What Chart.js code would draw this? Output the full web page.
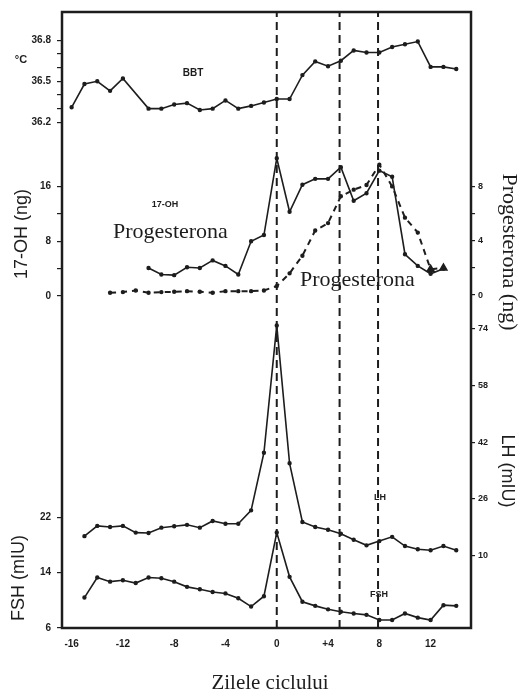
<!DOCTYPE html>
<html>
<head>
<meta charset="utf-8">
<script src="https://cdn.jsdelivr.net/npm/chart.js@4.4.1/dist/chart.umd.min.js"></script>
<style>
    html, body { margin: 0; padding: 0; background: #ffffff; }
    #chart { display: block; }
</style>
</head>
<body>
<canvas id="chart" width="532" height="694"></canvas>
<script>
// ── DONNEES ──
const BBT_DAYS = [-16, -15, -14, -13, -12, -11, -10, -9, -8, -7, -6, -5, -4, -3, -2, -1, 0, 1, 2, 3, 4, 5, 6, 7, 8, 9, 10, 11, 12, 13, 14];
const BBT      = [36.31, 36.48, 36.50, 36.43, 36.52, null, 36.30, 36.30, 36.33, 36.34, 36.29, 36.30, 36.36, 36.30, 36.32, 36.345,
                  36.37, 36.37, 36.545, 36.645, 36.61, 36.65, 36.725, 36.71, 36.71, 36.75, 36.77, 36.79, 36.605, 36.605, 36.59];

const OH_DAYS  = [-10, -9, -8, -7, -6, -5, -4, -3, -2, -1, 0, 1, 2, 3, 4, 5, 6, 7, 8, 9, 10, 11, 12, 13];
const OH17     = [4.1, 3.15, 3.05, 4.2, 4.1, 5.2, 4.4, 3.15, 8.0, 8.9, 20.1, 12.3, 16.25, 17.1, 17.1, 18.8, 13.9, 15.0, 18.3, 17.4, 6.1, 4.4, 3.25, 4.0];

const PROG_DAYS = [-13, -12, -11, -10, -9, -8, -7, -6, -5, -4, -3, -2, -1, 0, 1, 2, 3, 4, 5, 6, 7, 8, 9, 10, 11, 12, 13];
const PROG      = [0.17, 0.22, 0.34, 0.17, 0.22, 0.24, 0.29, 0.24, 0.17, 0.29, 0.29, 0.29, 0.34, 0.66, 1.6, 2.9, 4.75, 5.3, 7.27, 7.76, 8.1, 9.6, 8.0, 5.7, 4.6, 1.9, 2.0];

const GON_DAYS = [-15, -14, -13, -12, -11, -10, -9, -8, -7, -6, -5, -4, -3, -2, -1, 0, 1, 2, 3, 4, 5, 6, 7, 8, 9, 10, 11, 12, 13, 14];
const LH       = [15.4, 18.3, 18.0, 18.3, 16.4, 16.3, 17.8, 18.2, 18.6, 17.8, 19.7, 18.9, 18.9, 22.7, 39, 75, 36, 19.4, 18.0, 17.2, 16.1, 14.4, 12.8, 14.0, 15.2, 12.6, 11.7, 11.4, 12.6, 11.4];
const FSH      = [10.4, 13.3, 12.7, 12.9, 12.5, 13.3, 13.2, 12.7, 11.95, 11.6, 11.2, 11.0, 10.3, 9.1, 10.6, 19.8, 13.4, 9.8, 9.2, 8.7, 8.35, 8.1, 7.9, 7.15, 7.15, 8.1, 7.5, 7.15, 9.3, 9.2];

const MARKER_DAYS = [0, 4.9, 7.9];

const X_TICKS  = [-16, -12, -8, -4, 0, 4, 8, 12];
const X_LABELS = ["-16", "-12", "-8", "-4", "0", "+4", "8", "12"];

const BBT_TICKS  = [36.2, 36.3, 36.4, 36.5, 36.6, 36.7, 36.8];
const BBT_LABELS = [36.2, 36.5, 36.8];
const OH_TICKS   = [0, 4, 8, 12, 16];
const OH_LABELS  = [0, 8, 16];
const PROG_TICKS  = [0, 2, 4, 6, 8];
const PROG_LABELS = [0, 4, 8];
const LH_TICKS   = [10, 26, 42, 58, 74];
const FSH_TICKS  = [6, 14, 22];

const INK = "#1d1d1d";

// ── HELPERS ──
function pts(days, vals) {
    return days.map((d, i) => ({ x: d, y: vals[i] }));
}

function yAxis(pos, min, max, ticks, labels, size) {
    return {
        type: "linear",
        position: pos,
        min: min,
        max: max,
        afterFit: s => { s.width = 0; },
        afterBuildTicks: s => { s.ticks = ticks.map(v => ({ value: v })); },
        grid: {
            display: true, drawOnChartArea: false, drawTicks: true,
            tickLength: pos === "left" ? 5 : 4, color: INK, lineWidth: 1.2
        },
        border: { display: false },
        ticks: {
            autoSkip: false,
            padding: pos === "left" ? 6 : 3,
            color: INK,
            font: { family: "Liberation Sans", size: size, weight: "bold" },
            callback: v => labels.includes(v) ? String(v) : ""
        }
    };
}

function solid(label, days, vals, axis) {
    return {
        label: label,
        data: pts(days, vals),
        yAxisID: axis,
        borderColor: INK,
        backgroundColor: INK,
        borderWidth: 1.6,
        pointRadius: 1.4,
        pointHoverRadius: 1.4,
        tension: 0,
        spanGaps: true
    };
}

// ── DECOR ──
function txt(ctx, s, x, y, font, rot, align) {
    ctx.save();
    ctx.translate(x, y);
    if (rot) ctx.rotate(rot);
    ctx.font = font;
    ctx.fillStyle = INK;
    ctx.textAlign = align || "center";
    ctx.textBaseline = "middle";
    ctx.fillText(s, 0, 0);
    ctx.restore();
}

// axes have zero width in the layout; widen their boxes afterwards so labels are not clipped
const unclip = {
    id: "unclip",
    afterLayout(chart) {
        Object.values(chart.scales).forEach(s => {
            const p = s.options.position;
            if (p === "left")   s.left = 0;
            if (p === "right")  s.right = chart.width;
            if (p === "bottom") s.bottom = chart.height;
            s.width  = s.right - s.left;
            s.height = s.bottom - s.top;
        });
    }
};

const decor = {
    id: "decor",
    beforeDatasetsDraw(chart) {
        const { ctx, chartArea: a } = chart;
        ctx.save();
        ctx.strokeStyle = INK;
        ctx.lineWidth = 2.5;
        ctx.strokeRect(a.left, a.top, a.right - a.left, a.bottom - a.top);
        ctx.restore();
    },
    afterDraw(chart) {
        const ctx = chart.ctx;
        const sans  = "Liberation Sans";
        const serif = "Liberation Serif";
        txt(ctx, "BBT",   193, 73,  `bold 10px ${sans}`);
        txt(ctx, "17-OH", 165, 205, `bold 9px ${sans}`);
        txt(ctx, "LH",    380, 498, `bold 9px ${sans}`);
        txt(ctx, "FSH",   379, 595, `bold 9px ${sans}`);
        txt(ctx, "Progesterona", 113, 232, `22px ${serif}`, 0, "left");
        txt(ctx, "Progesterona", 300, 280, `22px ${serif}`, 0, "left");
        txt(ctx, "°C", 21, 60, `bold 11px ${sans}`);
        txt(ctx, "17-OH (ng)", 22, 234, `18px ${sans}`, -Math.PI / 2);
        txt(ctx, "FSH (mIU)",  19, 578, `18px ${sans}`, -Math.PI / 2);
        txt(ctx, "Progesterona (ng)", 509, 252, `22px ${serif}`, Math.PI / 2);
        txt(ctx, "LH (mIU)", 507, 471, `18px ${sans}`, Math.PI / 2);
        txt(ctx, "Zilele ciclului", 270, 683, `21px ${serif}`);
    }
};

// ── DATASETS ──
const datasets = [
    solid("BBT", BBT_DAYS, BBT, "yBBT"),
    solid("17-OH", OH_DAYS, OH17, "yOH"),
    {
        label: "Progesterona",
        data: pts(PROG_DAYS, PROG),
        yAxisID: "yProg",
        borderColor: INK,
        backgroundColor: INK,
        borderWidth: 2,
        borderDash: [6, 5],
        pointStyle: ctx => ctx.dataIndex >= PROG.length - 2 ? "triangle" : "circle",
        pointRadius: ctx => ctx.dataIndex >= PROG.length - 2 ? 3.5 : 1.2,
        tension: 0
    },
    solid("LH", GON_DAYS, LH, "yLH"),
    solid("FSH", GON_DAYS, FSH, "yFSH")
];

MARKER_DAYS.forEach(d => {
    datasets.push({
        label: "day " + d,
        data: [{ x: d, y: 0 }, { x: d, y: 1 }],
        yAxisID: "yV",
        borderColor: INK,
        borderWidth: 2,
        borderDash: [8, 5],
        pointRadius: 0
    });
});

// ── CHART ──
new Chart(document.getElementById("chart").getContext("2d"), {
    type: "line",
    data: { datasets: datasets },
    options: {
        responsive: false,
        devicePixelRatio: 1,
        animation: false,
        layout: { padding: { left: 62, right: 61, top: 10, bottom: 66 } },
        plugins: { legend: { display: false }, tooltip: { enabled: false } },
        scales: {
            x: {
                type: "linear",
                position: "bottom",
                min: -16.75,
                max: 15.15,
                afterFit: s => { s.height = 0; },
                afterBuildTicks: s => { s.ticks = X_TICKS.map(v => ({ value: v })); },
                grid: { display: false, drawTicks: false },
                border: { display: false },
                ticks: {
                    autoSkip: false, maxRotation: 0, padding: 10, color: INK,
                    font: { family: "Liberation Sans", size: 10, weight: "bold" },
                    callback: v => X_LABELS[X_TICKS.indexOf(v)]
                }
            },
            yBBT:  yAxis("left",  32.506, 37.006, BBT_TICKS, BBT_LABELS, 10),
            yOH:   yAxis("left",  -48.44, 41.45, OH_TICKS, OH_LABELS, 10),
            yFSH:  yAxis("left",  6, 95.08, FSH_TICKS, FSH_TICKS, 10),
            yProg: yAxis("right", -24.51, 20.84, PROG_TICKS, PROG_LABELS, 9),
            yLH:   yAxis("right", -10.58, 163.66, LH_TICKS, LH_TICKS, 9),
            yV:    { type: "linear", display: false, min: 0, max: 1 }
        }
    },
    plugins: [unclip, decor]
});
</script>
</body>
</html>
